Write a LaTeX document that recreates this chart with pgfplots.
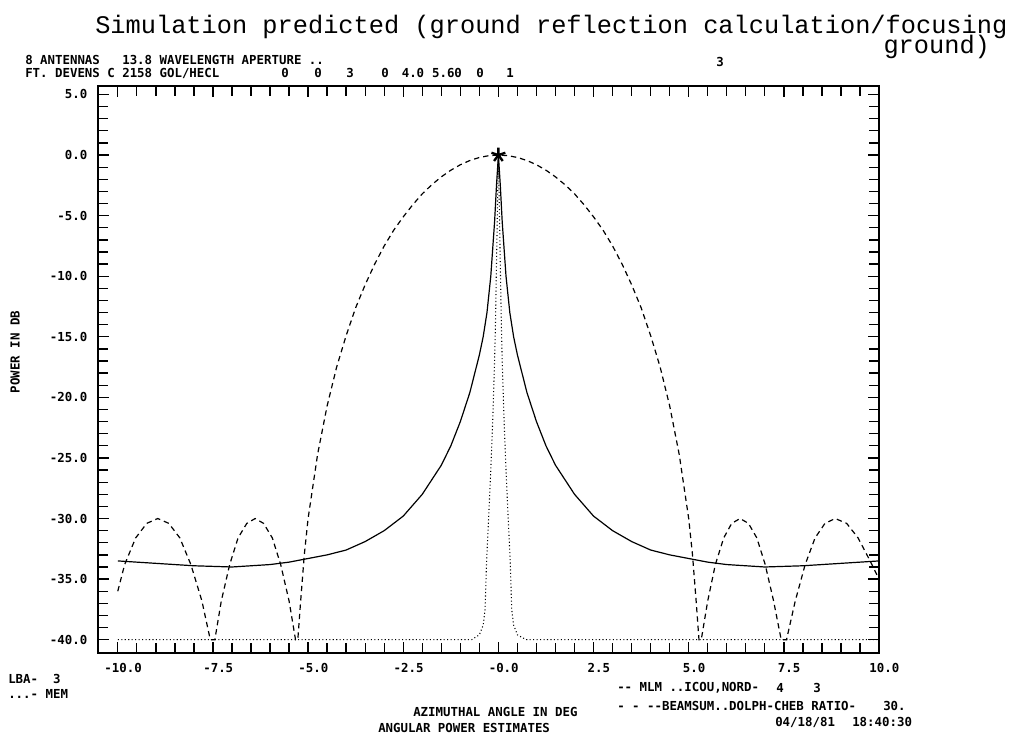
\documentclass[border=0pt]{standalone}
\usepackage{fontspec}
\usepackage{pgfplots}
\pgfplotsset{compat=1.18}
\newfontfamily\plotfont{DejaVu Sans Mono}
\newfontfamily\titlefont{Liberation Mono}
\newcommand{\pf}{\fontsize{9.3}{9.3}\plotfont\bfseries}

\begin{document}
\begin{tikzpicture}
\path[use as bounding box] (0,0) rectangle (762.75pt,-553.5pt);
\begin{axis}[
  at={(73.5pt,-489.75pt)}, anchor=south west,
  scale only axis, width=585.75pt, height=425.25pt,
  xmin=-10.52, xmax=10, ymin=-41.1, ymax=5.7,
  xtick={-10,-7.5,-5,-2.5,0,2.5,5,7.5,10},
  xticklabels={-10.0,-7.5,-5.0,-2.5,-0.0,2.5,5.0,7.5,10.0},
  ytick={-40,-35,-30,-25,-20,-15,-10,-5,0,5},
  yticklabels={-40.0,-35.0,-30.0,-25.0,-20.0,-15.0,-10.0,-5.0,0.0,5.0},
  minor x tick num=4, minor y tick num=4,
  tick align=inside, major tick length=8.5pt, minor tick length=7.5pt,
  axis line style={line width=1.6pt},
  every tick/.style={black, line width=1pt},
  tick label style={font=\pf},
  xticklabel style={yshift=-4pt, xshift=4pt},
  yticklabel style={xshift=-4.5pt},
]
% MLM (solid)
\addplot[black, line width=0.9pt] coordinates {
(-10,-33.5) (-9,-33.7) (-8,-33.9) (-7,-34.0) (-6,-33.8) (-5.5,-33.6) (-5,-33.3) (-4.5,-33.0) (-4,-32.6) (-3.5,-31.9) (-3,-31.0) (-2.5,-29.8) (-2,-28.0) (-1.5,-25.6) (-1.25,-24.0) (-1,-22.0) (-0.75,-19.6) (-0.5,-16.5) (-0.4,-15.0) (-0.3,-13.0) (-0.2,-10.0) (-0.1,-5.5) (-0.05,-2.5) (0,0)
(0.05,-2.5) (0.1,-5.5) (0.2,-10.0) (0.3,-13.0) (0.4,-15.0) (0.5,-16.5) (0.75,-19.6) (1,-22.0) (1.25,-24.0) (1.5,-25.6) (2,-28.0) (2.5,-29.8) (3,-31.0) (3.5,-31.9) (4,-32.6) (4.5,-33.0) (5,-33.3) (5.5,-33.6) (6,-33.8) (7,-34.0) (8,-33.9) (9,-33.7) (10,-33.5)
};
% Beamsum Dolph-Chebyshev (dashed)
\addplot[black, line width=0.9pt, dash pattern=on 4pt off 3pt] coordinates {
(-10,-36.0) (-9.82,-33.8) (-9.53,-31.6) (-9.24,-30.4) (-8.95,-30) (-8.66,-30.4) (-8.37,-31.6) (-8.08,-33.8) (-7.79,-36.8) (-7.57,-40) (-7.5,-40) (-7.45,-40) (-7.28,-36.8) (-7.06,-33.8) (-6.84,-31.6) (-6.61,-30.4) (-6.39,-30) (-6.17,-30.4) (-5.94,-31.6) (-5.72,-33.8) (-5.5,-36.8) (-5.33,-40) (-5.27,-40) (-5.2,-37) (-5.1,-33) (-5.0,-30) (-4.75,-24.7) (-4.5,-20.7) (-4.25,-17.5) (-4.0,-14.9) (-3.75,-12.6) (-3.5,-10.7) (-3.25,-9.0) (-3.0,-7.5) (-2.75,-6.2) (-2.5,-5.1) (-2.25,-4.1) (-2.0,-3.2) (-1.75,-2.45) (-1.5,-1.8) (-1.25,-1.25) (-1.0,-0.8) (-0.75,-0.45) (-0.5,-0.2) (-0.25,-0.05) (0,0)
(0.25,-0.05) (0.5,-0.2) (0.75,-0.45) (1.0,-0.8) (1.25,-1.25) (1.5,-1.8) (1.75,-2.45) (2.0,-3.2) (2.25,-4.1) (2.5,-5.1) (2.75,-6.2) (3.0,-7.5) (3.25,-9.0) (3.5,-10.7) (3.75,-12.6) (4.0,-14.9) (4.25,-17.5) (4.5,-20.7) (4.75,-24.7) (5.0,-30) (5.1,-33) (5.2,-37) (5.27,-40) (5.33,-40) (5.5,-36.8) (5.7,-33.8) (5.92,-31.6) (6.13,-30.4) (6.35,-30) (6.57,-30.4) (6.79,-31.6) (7.01,-33.8) (7.23,-36.8) (7.43,-40) (7.5,-40) (7.57,-40) (7.8,-36.8) (8.06,-33.8) (8.32,-31.6) (8.58,-30.4) (8.85,-30) (9.15,-30.4) (9.45,-31.6) (9.75,-33.4) (10,-35)
};
% MEM (dotted)
\addplot[black, line width=0.8pt, dash pattern=on 0.8pt off 1.8pt] coordinates {
(-10,-40) (-0.7,-40) (-0.5,-39.6) (-0.4,-38.8) (-0.35,-37.5) (-0.31,-33.5) (-0.25,-29.5) (-0.2,-26) (-0.15,-22) (-0.1,-17) (-0.08,-14.4) (-0.05,-9) (-0.02,-3.5) (0,0)
(0.02,-3.5) (0.05,-9) (0.08,-14.4) (0.1,-17) (0.15,-22) (0.2,-26) (0.25,-29.5) (0.31,-33.5) (0.35,-37.5) (0.4,-38.8) (0.5,-39.6) (0.73,-40) (10,-40)
};
\addplot[only marks, black, mark=star, mark size=5.5pt, mark options={line width=1.8pt}] coordinates {(0,0)};
\end{axis}
\begin{scope}[x=0.75pt,y=-0.75pt, every node/.style={inner sep=0pt}]
\node[anchor=north west, font={\fontsize{19}{12}\titlefont}] at (95,15) {\vbox{\baselineskip=15pt\lineskiplimit=-30pt\hbox{Simulation predicted (ground reflection calculation/focusing}\hbox to 684pt{\hfill ground)\hspace*{13pt}}}};
\node[anchor=west, font=\pf] at (25,60) {8 ANTENNAS\ \ \ 13.8 WAVELENGTH APERTURE ..};
\node[anchor=center, font=\pf] at (720,62) {3};
\node[anchor=west, font=\pf] at (25,73) {FT. DEVENS C 2158 GOL/HECL};
\node[font=\pf] at (285,73) {0};
\node[font=\pf] at (318,73) {0};
\node[font=\pf] at (350,73) {3};
\node[font=\pf] at (385,73) {0};
\node[font=\pf] at (413,73) {4.0};
\node[font=\pf] at (447,73) {5.60};
\node[font=\pf] at (480,73) {0};
\node[font=\pf] at (510,73) {1};
\node[rotate=90, font=\pf] at (15,352) {POWER IN DB};
\node[anchor=west, font=\pf] at (8,679) {LBA-\ \ 3};
\node[anchor=west, font=\pf] at (8,694) {...- MEM};
\node[anchor=west, font=\pf] at (413,712) {AZIMUTHAL ANGLE IN DEG};
\node[anchor=west, font=\pf] at (378,728) {ANGULAR POWER ESTIMATES};
\node[anchor=west, font=\pf] at (617,688) {-- MLM ..ICOU,NORD-};
\node[font=\pf] at (780,688) {4};
\node[font=\pf] at (817,688) {3};
\node[anchor=west, font=\pf] at (617,706) {- - --BEAMSUM..DOLPH-CHEB RATIO-};
\node[anchor=west, font=\pf] at (883,706) {30.};
\node[anchor=west, font=\pf] at (775,722) {04/18/81};
\node[anchor=west, font=\pf] at (852,722) {18:40:30};
\end{scope}
\end{tikzpicture}
\end{document}
